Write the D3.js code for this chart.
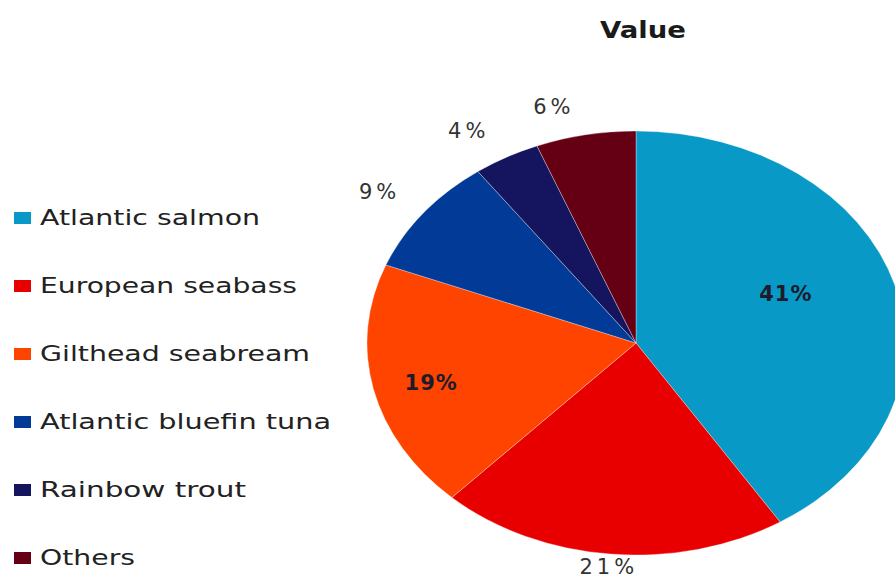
<!DOCTYPE html>
<html><head><meta charset="utf-8">
<script src="https://cdn.jsdelivr.net/npm/d3@7"></script>
<style>body{margin:0;background:#fff}svg{display:block}</style>
</head><body><svg id="c" width="895" height="581"></svg>
<script>
const categories = ["Atlantic salmon","European seabass","Gilthead seabream","Atlantic bluefin tuna","Rainbow trout","Others"];
const values = [41, 21, 19, 9, 4, 6];
const labels = ["41%","21%","19%","9%","4%","6%"];
const colors = ["#0899c6","#e80000","#ff4400","#023b97","#14155e","#650014"];
const insideLabel = [true,false,true,false,false,false];
const title = "Value";

const svg = d3.select("#c");
const W = 895, H = 581;
const cx = 636, cy = 343, rx = 269, ry = 212;
const font = "'DejaVu Sans', Verdana, sans-serif";

svg.append("text").attr("x", 643).attr("y", 38).attr("text-anchor","middle")
  .attr("font-family", font).attr("font-weight","bold").attr("font-size", 23)
  .attr("fill","#1a1a1a").attr("textLength", 86).attr("lengthAdjust","spacingAndGlyphs").text(title);

const pie = d3.pie().sort(null).value(d => d)(values);
const arc = d3.arc().innerRadius(0).outerRadius(ry);
const g = svg.append("g").attr("transform", `translate(${cx},${cy}) scale(${rx/ry},1)`);
g.selectAll("path").data(pie).join("path")
  .attr("d", arc).attr("fill", (d,i) => colors[i])
  .attr("stroke", "rgba(255,255,255,0.4)").attr("stroke-width", 0.8)
  .attr("vector-effect","non-scaling-stroke");

pie.forEach((d, i) => {
  const a = (d.startAngle + d.endAngle) / 2;
  const s = Math.sin(a), c = Math.cos(a);
  let x, y;
  if (insideLabel[i]) {
    const k = i === 0 ? 0.58 : 0.78;
    x = cx + rx * k * s; y = cy - ry * k * c - (i === 0 ? 15 : -3);
  } else {
    const gap = 20, hw = 28, hh = 9;
    x = cx + (rx + gap) * s + (Math.abs(s) > 0.15 ? hw * Math.sign(s) : 0);
    y = cy - (ry + gap) * c - hh * Math.sign(c);
    y = Math.min(y, H - 15);
  }
  svg.append("text").attr("x", x).attr("y", y).attr("dy", "0.36em")
    .attr("text-anchor","middle").attr("font-family", font)
    .attr("font-size", 21).attr("font-weight", insideLabel[i] ? "bold" : "normal")
    .attr("letter-spacing", insideLabel[i] ? 1 : 4)
    .attr("fill", insideLabel[i] ? "#1c1c2a" : "#333")
    .text(labels[i]);
});

const legendW = [220, 257, 270, 291, 206, 95];
const leg = svg.append("g");
categories.forEach((cat, i) => {
  const y = 218 + i * 68;
  leg.append("rect").attr("x", 14).attr("y", y - 6).attr("width", 17).attr("height", 12)
    .attr("fill", colors[i]);
  leg.append("text").attr("x", 40).attr("y", y + 6.5)
    .attr("font-family", font).attr("font-size", 21).attr("fill", "#222")
    .attr("textLength", legendW[i]).attr("lengthAdjust","spacingAndGlyphs").text(cat);
});
</script></body></html>
